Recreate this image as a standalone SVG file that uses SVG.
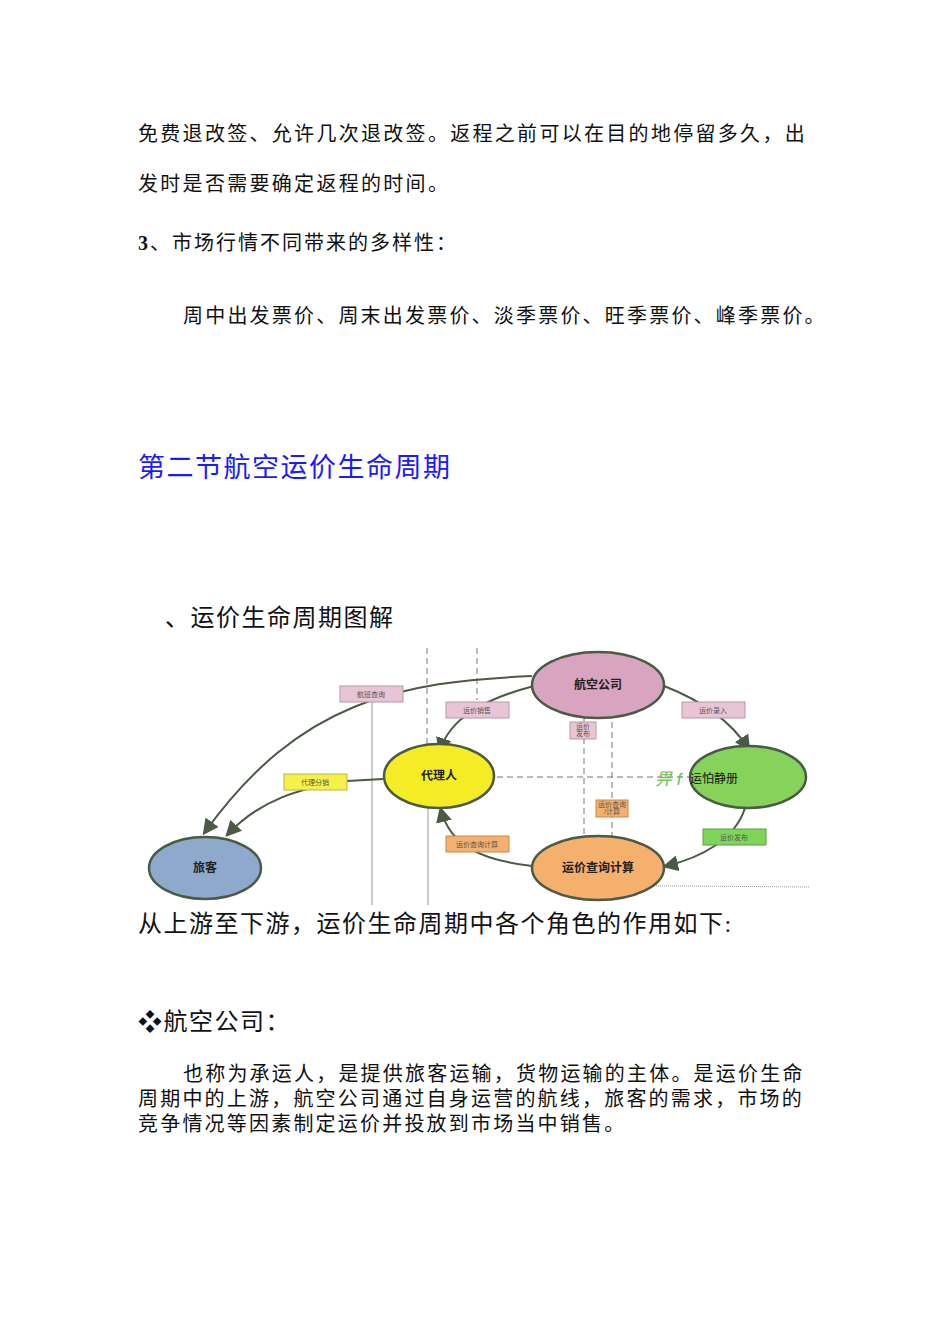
<svg xmlns="http://www.w3.org/2000/svg" width="950" height="1344" viewBox="0 0 950 1344">
<defs>
<style>
.t{font-family:"Liberation Serif","Noto Sans CJK SC",serif;fill:#111}
.s{font-family:"Liberation Sans","Noto Sans CJK SC",sans-serif;font-size:7px;fill:#555;text-anchor:middle}
.n{font-family:"Liberation Sans","Noto Sans CJK SC",sans-serif;font-size:12px;font-weight:bold;fill:#222;text-anchor:middle}
.e{stroke:#4a5a44;stroke-width:2.5}
.c{fill:none;stroke:#4a5a44;stroke-width:2}
.g{fill:none;stroke:#999;stroke-width:1}
.d{fill:none;stroke:#777;stroke-width:1;stroke-dasharray:6 4}
.pk{fill:#e8c4d4;stroke:#b89aa6}
.yl{fill:#f5f04a;stroke:#b8b840}
.or{fill:#f4b06c;stroke:#c88a50}
.gr{fill:#7fd45a;stroke:#5aa040}
</style>
<marker id="a" markerWidth="8" markerHeight="8" refX="6" refY="4" orient="auto"><path d="M0,0 L8,4 L0,8 z" fill="#4a5a44"/></marker>
</defs>
<rect width="950" height="1344" fill="#fff"/>
<text class="t" x="138" y="141" font-size="20" letter-spacing="2.3">免费退改签、允许几次退改签。返程之前可以在目的地停留多久，出</text>
<text class="t" x="138" y="191" font-size="20" letter-spacing="2.3">发时是否需要确定返程的时间。</text>
<text class="t" x="138" y="250" font-size="20" letter-spacing="2"><tspan font-weight="bold">3</tspan>、市场行情不同带来的多样性：</text>
<text class="t" x="183" y="323" font-size="20" letter-spacing="2.2">周中出发票价、周末出发票价、淡季票价、旺季票价、峰季票价。</text>
<text class="t" x="138" y="477" font-size="27" letter-spacing="1.5" style="fill:#1a1aff">第二节航空运价生命周期</text>
<text class="t" x="165" y="626" font-size="24" letter-spacing="1.5">、运价生命周期图解</text>
<g id="connectors">
<line class="g" x1="372" y1="700" x2="372" y2="905"/>
<line class="g" x1="428" y1="800" x2="428" y2="905"/>
<line class="d" x1="427" y1="648" x2="427" y2="750"/>
<line class="d" x1="477" y1="648" x2="477" y2="700"/>
<line class="d" x1="584" y1="718" x2="584" y2="838"/>
<line class="d" x1="612" y1="838" x2="612" y2="718"/>
<line class="d" x1="497" y1="777" x2="690" y2="777"/>
<line class="g" x1="540" y1="885" x2="810" y2="887" stroke-dasharray="1 1"/>
<path class="c" d="M532,676 C400,682 300,700 205,832" marker-end="url(#a)"/>
<path class="c" d="M383,779 L347,781 C300,788 260,800 228,834" marker-end="url(#a)"/>
<path class="c" d="M534,686 C480,700 450,720 440,750" marker-end="url(#a)"/>
<path class="c" d="M664,686 C700,700 730,720 748,748" marker-end="url(#a)"/>
<path class="c" d="M745,808 C735,840 700,858 666,866" marker-end="url(#a)"/>
<path class="c" d="M532,866 C480,860 450,845 441,810" marker-end="url(#a)"/>
</g>
<g id="n-airline"><ellipse class="e" cx="598" cy="685" rx="66" ry="33" fill="#d9a4bf"/><text class="n" x="598" y="689">航空公司</text></g>
<g id="n-agent"><ellipse class="e" cx="439" cy="776" rx="55" ry="32" fill="#f5ec25"/><text class="n" x="439" y="780">代理人</text></g>
<g id="n-green"><ellipse class="e" cx="748" cy="777" rx="58" ry="31" fill="#86d25a"/><text x="655" y="785" font-family="Liberation Sans,Noto Sans CJK SC,sans-serif" font-size="17" font-style="italic" fill="#6cc050">畀 f</text><text x="690" y="783" font-family="Liberation Sans,Noto Sans CJK SC,sans-serif" font-size="12" fill="#111">运怕静册</text></g>
<g id="n-orange"><ellipse class="e" cx="598" cy="868" rx="66" ry="32" fill="#f4b06c"/><text class="n" x="598" y="872" font-weight="normal">运价查询计算</text></g>
<g id="n-traveler"><ellipse class="e" cx="205" cy="868" rx="56" ry="31" fill="#8ea9cc"/><text class="n" x="205" y="872">旅客</text></g>
<g id="labels">
<rect class="pk" x="340" y="686" width="63" height="16"/><text class="s" x="371" y="697">航班查询</text>
<rect class="pk" x="446" y="702" width="63" height="16"/><text class="s" x="477" y="713">运价销售</text>
<rect class="pk" x="682" y="702" width="63" height="16"/><text class="s" x="713" y="713">运价录入</text>
<rect class="pk" x="570" y="722" width="26" height="17"/><text class="s" x="583" y="729" font-size="6">运价</text><text class="s" x="583" y="736" font-size="6">发布</text>
<rect class="yl" x="284" y="774" width="63" height="16"/><text class="s" x="315" y="785">代理分销</text>
<rect class="or" x="596" y="800" width="32" height="17"/><text class="s" x="612" y="807" font-size="6">运价查询</text><text class="s" x="612" y="814" font-size="6">/计算</text>
<rect class="or" x="446" y="836" width="63" height="16"/><text class="s" x="477" y="847">运价查询计算</text>
<rect class="gr" x="703" y="829" width="63" height="16"/><text class="s" x="734" y="840">运价发布</text>
</g>
<text class="t" x="138" y="932" font-size="24" letter-spacing="1.5">从上游至下游，运价生命周期中各个角色的作用如下:</text>
<text class="t" x="138" y="1030" font-size="24" letter-spacing="1.5">❖航空公司：</text>
<text class="t" x="183" y="1081" font-size="20" letter-spacing="2.2">也称为承运人，是提供旅客运输，货物运输的主体。是运价生命</text>
<text class="t" x="138" y="1106" font-size="20" letter-spacing="2.2">周期中的上游，航空公司通过自身运营的航线，旅客的需求，市场的</text>
<text class="t" x="138" y="1131" font-size="20" letter-spacing="2.2">竞争情况等因素制定运价并投放到市场当中销售。</text>
</svg>
